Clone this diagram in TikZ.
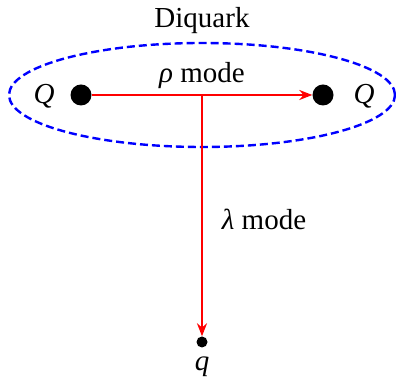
\documentclass[tikz,border=0pt]{standalone}
\usepackage{fontspec}
\setmainfont{Liberation Serif}
\usetikzlibrary{arrows.meta,shapes.geometric}
\begin{document}
\begin{tikzpicture}[x=1pt,y=1pt,
  lbl/.style={font=\fontsize{29}{33}\selectfont, inner sep=0pt},
  bigdot/.style={circle, fill=black, minimum size=21pt, inner sep=0pt},
  smalldot/.style={circle, fill=black, minimum size=11pt, inner sep=0pt},
  redarrow/.style={red, line width=2.6pt, -{Stealth[length=13pt,width=10pt]}}]
\useasboundingbox (0,0) rectangle (396,379);
\node[draw=blue, line width=2.4pt, dash pattern=on 8pt off 4pt, ellipse, minimum width=386pt, minimum height=104pt, inner sep=0pt] (ell) at (202,284) {};
\node[bigdot] (Q1) at (81,284) {};
\node[bigdot] (Q2) at (323,284) {};
\node[smalldot] (q) at (202,37) {};
\coordinate (mid) at (202,284);
\draw[redarrow] (Q1.east) -- (Q2.west);
\draw[redarrow] (mid) -- (q.north);
\node[lbl] (QL) at (44,283) {\textit{Q}};
\node[lbl] (QR) at (364,283) {\textit{Q}};
\node[lbl] (ql) at (202,12) {\textit{q}};
\node[lbl] (rho) at (202,303) {\textit{ρ} mode};
\node[lbl] (lam) at (264,160) {\textit{λ} mode};
\node[lbl] (dq) at (202,358) {Diquark};
\end{tikzpicture}
\end{document}
